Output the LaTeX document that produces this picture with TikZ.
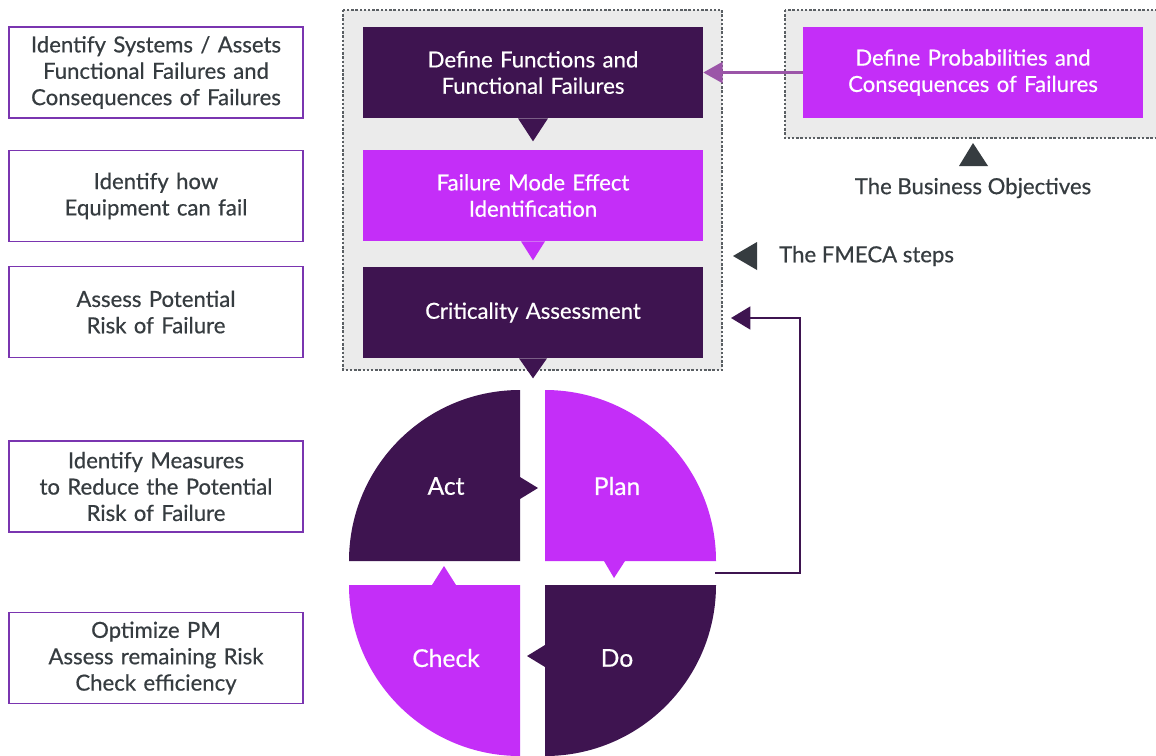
\documentclass[tikz,border=0pt]{standalone}
\usepackage{fontspec}
\setmainfont{Lato}[FakeBold=0.5]
\usetikzlibrary{arrows.meta,calc}

\definecolor{plum}{HTML}{3E1450}
\definecolor{orchid}{HTML}{C42EF8}
\definecolor{mist}{HTML}{EBEBEB}
\definecolor{slate}{HTML}{363C40}
\definecolor{lilac}{HTML}{9B55A8}
\definecolor{frame}{HTML}{7A35B0}
\definecolor{dotgray}{HTML}{5A5F63}

\begin{document}
\begin{tikzpicture}[x=0.02cm, y=-0.02cm,
    stagebox/.style={minimum width=6.8cm, minimum height=1.82cm, text width=6.4cm,
      align=center, text=white, inner sep=0pt, font=\fontsize{12.6}{15}\selectfont},
    notebox/.style={draw=frame, line width=0.9pt, fill=white, minimum width=5.88cm,
      minimum height=1.82cm, text width=5.6cm, align=center, text=slate,
      inner sep=0pt, font=\fontsize{12.6}{15}\selectfont},
    groupframe/.style={fill=mist, draw=dotgray, line width=1pt, dash pattern=on 1.4pt off 1pt},
    pdcatext/.style={text=white, font=\fontsize{14}{16}\selectfont},
    hint/.style={text=slate, font=\fontsize{12.6}{15}\selectfont}]
  \clip (0,0) rectangle (1156,755);
  \fill[white] (0,0) rectangle (1156,755);

  % grey groups
  \path[groupframe] (343,10) rectangle (722,370);
  \path[groupframe] (785,10) rectangle (1170,138);

  % left column
  \node[notebox] (lbox1) at (156,72.5) {Identify Systems / Assets\\Functional Failures and\\Consequences of Failures};
  \node[notebox] (lbox2) at (156,196) {Identify how\\Equipment can fail};
  \node[notebox] (lbox3) at (156,312) {Assess Potential\\Risk of Failure};
  \node[notebox] (lbox4) at (156,486.5) {Identify Measures\\to Reduce the Potential\\Risk of Failure};
  \node[notebox] (lbox5) at (156,658) {Optimize PM\\Assess remaining Risk\\Check efficiency};

  % FMECA steps
  \node[stagebox, fill=plum] (func) at (533,72.5) {Define Functions and\\Functional Failures};
  \node[stagebox, fill=orchid] (fmea) at (533,195.5) {Failure Mode Effect\\Identification};
  \node[stagebox, fill=plum] (crit) at (533,312.5) {Criticality Assessment};
  \node[stagebox, fill=orchid] (prob) at (973,72.5) {Define Probabilities and\\Consequences of Failures};

  \fill[plum] (func.south) ++(-15,0) -- ++(30,0) -- ++(-15,23) -- cycle;
  \fill[orchid] (fmea.south) ++(-12,0) -- ++(24,0) -- ++(-12,19) -- cycle;
  \fill[plum] (crit.south) ++(-14,0) -- ++(28,0) -- ++(-14,20) -- cycle;

  \draw[lilac, line width=1.2pt, -{Triangle[length=11pt, width=12pt]}] (prob.west) -- (func.east);

  % hints
  \node[hint] (bizlbl) at (973,188) {The Business Objectives};
  \fill[slate] (973,143) -- (988,166) -- (959,166) -- cycle;
  \node[hint, anchor=west] (fmecalbl) at (773,256) {The FMECA steps};
  \fill[slate] (733,256) -- (757,242) -- (757,270) -- cycle;

  % PDCA circle
  \fill[plum] (520,561) -- (349,561) arc[start angle=180, end angle=270, radius=171] -- cycle;
  \fill[orchid] (545,561) -- (545,390) arc[start angle=270, end angle=360, radius=171] -- cycle;
  \fill[plum] (545,585) -- (716,585) arc[start angle=0, end angle=90, radius=171] -- cycle;
  \fill[orchid] (520,585) -- (520,756) arc[start angle=90, end angle=180, radius=171] -- cycle;

  \fill[plum] (520,477) -- (538,488) -- (520,499) -- cycle;
  \fill[orchid] (604,561) -- (614,578) -- (625,561) -- cycle;
  \fill[orchid] (432,585) -- (444,566) -- (456,585) -- cycle;
  \fill[plum] (545,645) -- (527,656) -- (545,667) -- cycle;

  \node[pdcatext] (act) at (446,486) {Act};
  \node[pdcatext] (plan) at (617,486) {Plan};
  \node[pdcatext] (check) at (446,658) {Check};
  \node[pdcatext] (do) at (617,658) {Do};

  % feedback loop
  \coordinate (loopout) at (715,573);
  \coordinate (loopin) at (731,318);
  \draw[plum, line width=1.2pt, -{Triangle[length=11pt, width=13pt]}]
    (loopout) -- (800,573) |- (loopin);
\end{tikzpicture}
\end{document}
